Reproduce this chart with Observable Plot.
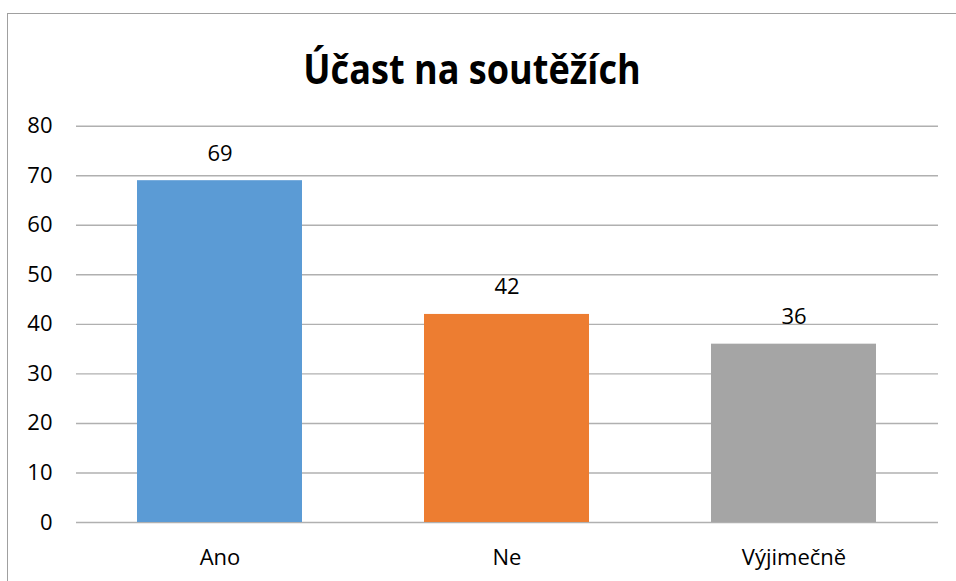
<!DOCTYPE html>
<html>
<head>
<meta charset="utf-8">
<script src="https://cdn.jsdelivr.net/npm/d3@7"></script>
<script src="https://cdn.jsdelivr.net/npm/@observablehq/plot@0.6"></script>
<style>
  body { margin: 0; background: #fff; font-family: "Open Sans", "Liberation Sans", sans-serif; }
  #wrap { position: relative; width: 956px; height: 581px; overflow: hidden; background: #fff; }
  #frame { position: absolute; left: 7px; top: 13px; width: 1100px; height: 800px; border: 1.5px solid #a0a0a0; box-sizing: border-box; }
  #title { position: absolute; left: 0; top: 48px; width: 944px; text-align: center; font-size: 41px; line-height: 41px; font-weight: 700; color: #000; white-space: nowrap; transform: scaleX(0.88); transform-origin: 472px 50%; }
  #chart { position: absolute; left: 0; top: 100px; }
</style>
</head>
<body>
<div id="wrap">
  <div id="frame"></div>
  <div id="title">Účast na soutěžích</div>
  <div id="chart"></div>
</div>
<script>
const categories = ["Ano", "Ne", "Výjimečně"];
const values = [69, 42, 36];
const colors = ["#5B9BD5", "#ED7D31", "#A5A5A5"];
const yTicks = [0, 10, 20, 30, 40, 50, 60, 70, 80];

const data = categories.map((c, i) => ({category: c, value: values[i]}));

const chart = Plot.plot({
  width: 956,
  height: 481,
  marginTop: 25.7,
  marginBottom: 59,
  marginLeft: 76,
  marginRight: 18,
  style: { fontFamily: "'Open Sans', 'Liberation Sans', sans-serif", fontSize: "22px", color: "#000", background: "transparent", overflow: "visible" },
  x: { domain: categories, paddingInner: 0.425, paddingOuter: 0.2125, align: 0.5, label: null },
  y: { domain: [0, 80], label: null },
  color: { domain: categories, range: colors },
  marks: [
    Plot.ruleY(yTicks, { stroke: "#b0b0b0", strokeWidth: 1.4 }),
    Plot.barY(data, { x: "category", y: "value", fill: "category" }),
    Plot.text(data, { x: "category", y: "value", text: d => String(d.value), dy: -27, fontSize: 22, fill: "#000" }),
    Plot.axisY({ ticks: yTicks, tickSize: 0, tickPadding: 24, fontSize: 22, label: null }),
    Plot.axisX({ tickSize: 0, tickPadding: 27, fontSize: 22, label: null })
  ]
});
document.getElementById("chart").appendChild(chart);
</script>
</body>
</html>
